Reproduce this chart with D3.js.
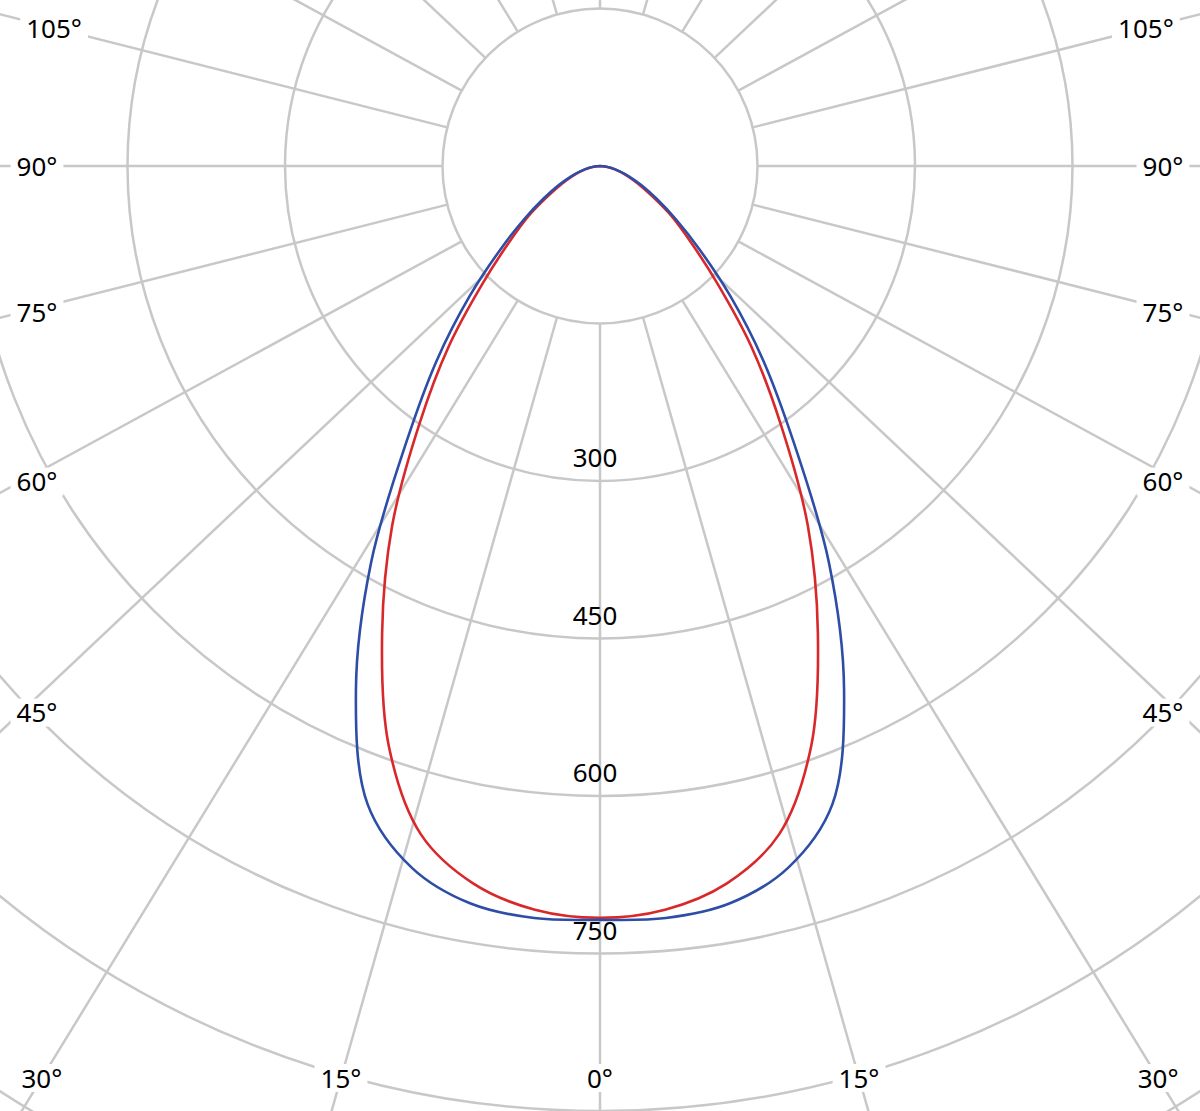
<!DOCTYPE html>
<html><head><meta charset="utf-8">
<script src="https://cdn.jsdelivr.net/npm/d3@7"></script>
<style>html,body{margin:0;padding:0;background:#fff;} svg{display:block}</style>
</head><body>
<svg id="chart" width="1200" height="1111"></svg>
<script>
// ---- data ----
const angles = [0,5,10,15,20,25,30,35,40,45,50,55,60,65,70,75,80,85,90];
const seriesBlue = [718,719,713,692,647,550,436,322,242,176,124,88,62,44,30,19,11,5,0];
const seriesRed  = [716,711,694,659,588,491,396,300,224,158,113,83,57,40,28,18,10,4,0];
const ringValues = [150,300,450,600,750,900,1050,1200,1350];
const ringLabelValues = [300,450,600,750];
const rayAngles = [-180,-165,-150,-135,-120,-105,-90,-75,-60,-45,-30,-15,0,15,30,45,60,75,90,105,120,135,150,165];
const angleLabelValues = [-105,-90,-75,-60,-45,-30,-15,0,15,30,45,60,75,90,105];

// ---- layout ----
const W = 1200, H = 1111;
const cx = 600, cy = 166;
const rayStretch = 1.06;
const sideLabelStretch = 1.03;
const r = d3.scaleLinear().domain([0,150]).range([0,157.5]);
const rad = d3.scaleLinear().domain([0,180]).range([0,Math.PI]);
const gridColor = "#c8c8c8";
const font = "'Noto Sans', 'Open Sans', sans-serif";
const fs = 26;

const svg = d3.select("#chart");
svg.append("rect").attr("width",W).attr("height",H).attr("fill","#fff");

function dir(a, s){
  const t = rad(a);
  const ux = s*Math.sin(t), uy = Math.cos(t);
  const n = Math.hypot(ux,uy);
  return [ux/n, uy/n];
}

// rings
svg.append("g").selectAll("circle").data(ringValues).join("circle")
  .attr("cx",cx).attr("cy",cy).attr("r",d=>r(d))
  .attr("fill","none").attr("stroke",gridColor).attr("stroke-width",2.5);

// rays
svg.append("g").selectAll("line").data(rayAngles).join("line")
  .attr("x1",d=>cx+r(150)*dir(d,rayStretch)[0]).attr("y1",d=>cy+r(150)*dir(d,rayStretch)[1])
  .attr("x2",d=>cx+r(2000)*dir(d,rayStretch)[0]).attr("y2",d=>cy+r(2000)*dir(d,rayStretch)[1])
  .attr("stroke",gridColor).attr("stroke-width",2.5);

// angle labels at rectangle boundary
const box = {left:37, right:1163, top:28, bottom:1078};
function hit(ux,uy){
  let t = Infinity, side = "";
  if (ux<-1e-9 && (box.left-cx)/ux < t) { t=(box.left-cx)/ux; side="x"; }
  if (ux>1e-9 && (box.right-cx)/ux < t) { t=(box.right-cx)/ux; side="x"; }
  if (uy>1e-9 && (box.bottom-cy)/uy < t) { t=(box.bottom-cy)/uy; side="y"; }
  if (uy<-1e-9 && (box.top-cy)/uy < t) { t=(box.top-cy)/uy; side="y"; }
  return {t, side};
}
function labelPos(a){
  let [ux,uy] = dir(a, rayStretch);
  let h = hit(ux,uy);
  if (h.side==="x" && uy>0) { [ux,uy] = dir(a, sideLabelStretch); h = hit(ux,uy); }
  return [cx+h.t*ux, cy+h.t*uy];
}
const lg = svg.append("g");
angleLabelValues.forEach(a=>{
  const [x,y] = labelPos(a);
  const g = lg.append("g");
  const txt = g.append("text").attr("x",x).attr("y",y+9.5)
    .attr("text-anchor","middle").attr("font-family",font).attr("font-size",fs)
    .attr("fill","#000").text(Math.abs(a)+"°");
  const bb = txt.node().getBBox();
  g.insert("rect","text").attr("x",bb.x-6).attr("y",y-14).attr("width",bb.width+12).attr("height",28).attr("fill","#fff");
});

// ring labels
svg.append("g").selectAll("text").data(ringLabelValues).join("text")
  .attr("x",595).attr("y",d=>cy+r(d)-14)
  .attr("text-anchor","middle").attr("font-family",font).attr("font-size",fs)
  .attr("fill","#000").text(d=>d);

// curves
function pts(vals){
  const out = [];
  for (let i=angles.length-1;i>=1;i--) out.push([-angles[i], vals[i]]);
  for (let i=0;i<angles.length;i++) out.push([angles[i], vals[i]]);
  return out.map(([a,v])=>[cx + r(v)*Math.sin(rad(a)), cy + r(v)*Math.cos(rad(a))]);
}
const line = d3.line().curve(d3.curveCatmullRom.alpha(0.5));
svg.append("path").attr("d",line(pts(seriesRed))).attr("fill","none")
  .attr("stroke","#d9282a").attr("stroke-width",2.6).attr("stroke-linejoin","round");
svg.append("path").attr("d",line(pts(seriesBlue))).attr("fill","none")
  .attr("stroke","#2d4da6").attr("stroke-width",2.6).attr("stroke-linejoin","round");
</script>
</body></html>
